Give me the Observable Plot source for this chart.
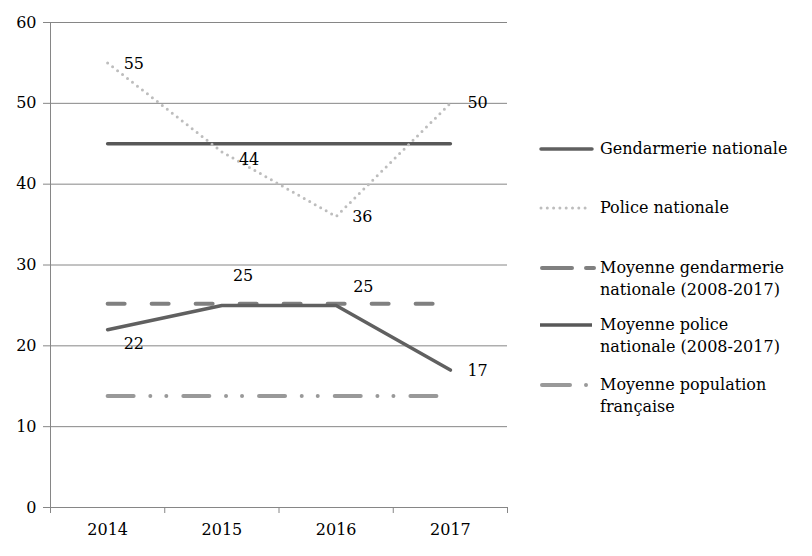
<!DOCTYPE html>
<html><head><meta charset="utf-8">
<script src="https://cdn.jsdelivr.net/npm/d3@7"></script>
<script src="https://cdn.jsdelivr.net/npm/@observablehq/plot@0.6"></script>
<style>
body{margin:0;background:#fff;}
#wrap{position:relative;width:812px;height:556px;font-family:"DejaVu Serif",serif;color:#000;}
#wrap svg.plot{position:absolute;left:0;top:0;}
.leg{position:absolute;left:540px;}
.leg svg{position:absolute;left:0;top:0;overflow:visible;}
.leg .t{position:absolute;left:60px;font-size:16px;line-height:22px;white-space:nowrap;}
</style></head><body><div id="wrap"></div>
<script>
const years = [2014, 2015, 2016, 2017];
const gendarmerie = [22, 25, 25, 17];
const police = [55, 44, 36, 50];
const moyenneGendarmerie = [25.2, 25.2, 25.2, 25.2];
const moyennePolice = [45, 45, 45, 45];
const moyennePopulation = [13.8, 13.8, 13.8, 13.8];
const yTicks = [0, 10, 20, 30, 40, 50, 60];
const legendLabels = ["Gendarmerie nationale", "Police nationale", "Moyenne gendarmerie nationale (2008-2017)", "Moyenne police nationale (2008-2017)", "Moyenne population française"];

const rows = arr => years.map((year, i) => ({year, v: arr[i], i}));
const styles = {
  gend: {stroke: "#606060", strokeWidth: 3.5, strokeLinecap: "round"},
  pol: {stroke: "#bdbdbd", strokeWidth: 3, strokeDasharray: "0 6.3", strokeLinecap: "round"},
  mg: {stroke: "#808080", strokeWidth: 4, strokeDasharray: "17 27", strokeLinecap: "round"},
  mp: {stroke: "#585858", strokeWidth: 3.5},
  pop: {stroke: "#999999", strokeWidth: 4, strokeDasharray: "26 16.7 0 16 0 17", strokeLinecap: "round"}
};
const gray = "#868686";
const lbl = (arr, idx, dx, dy, anchor) => Plot.text(rows(arr).filter(d => d.i === idx), {x: "year", y: "v", text: d => String(d.v), dx, dy, textAnchor: anchor || "start", fontSize: 16, fill: "#000"});

const chart = Plot.plot({
  width: 812, height: 556,
  marginLeft: 50, marginRight: 305, marginTop: 22, marginBottom: 49,
  style: {fontFamily: "DejaVu Serif, serif", fontSize: "15px", color: "#000", background: "transparent"},
  x: {domain: [2013.5, 2017.5]},
  y: {domain: [0, 60]},
  marks: [
    Plot.gridY(yTicks.slice(1), {stroke: gray, strokeOpacity: 1}),
    Plot.ruleY([0], {stroke: gray}),
    Plot.ruleX([2013.5], {stroke: gray}),
    Plot.axisY(yTicks, {tickSize: 7, tickPadding: 7, stroke: gray, fill: "#000", fontSize: 16, label: null, tickFormat: d => String(d)}),
    Plot.axisX([2013.5, 2014.5, 2015.5, 2016.5, 2017.5], {tickSize: 6, stroke: gray, tickFormat: () => "", label: null}),
    Plot.axisX(years, {tickSize: 0, tickPadding: 16, fill: "#000", fontSize: 16, label: null, tickFormat: d => String(d)}),
    Plot.line(rows(moyennePopulation), {x: "year", y: "v", ...styles.pop}),
    Plot.line(rows(moyenneGendarmerie), {x: "year", y: "v", ...styles.mg}),
    Plot.line(rows(moyennePolice), {x: "year", y: "v", ...styles.mp}),
    Plot.line(rows(police), {x: "year", y: "v", ...styles.pol}),
    Plot.line(rows(gendarmerie), {x: "year", y: "v", ...styles.gend}),
    lbl(police, 0, 16, 1),
    lbl(police, 1, 17, 8),
    lbl(police, 2, 16, 0),
    lbl(police, 3, 17, 0),
    lbl(gendarmerie, 0, 16, 14),
    lbl(gendarmerie, 1, 11, -30),
    lbl(gendarmerie, 2, 17, -19),
    lbl(gendarmerie, 3, 17, 1)
  ]
});
chart.classList.add("plot");
const wrap = document.getElementById("wrap");
wrap.appendChild(chart);

// legend
const legendItems = [
  {key: "gend", y: 149, lines: [legendLabels[0]]},
  {key: "pol", y: 208, lines: [legendLabels[1]]},
  {key: "mg", y: 268, lines: ["Moyenne gendarmerie", "nationale (2008-2017)"]},
  {key: "mp", y: 325, lines: ["Moyenne police", "nationale (2008-2017)"]},
  {key: "pop", y: 385, lines: ["Moyenne population", "française"]}
];
const legendSamples = {
  gend: {x1: 1, x2: 52, dash: null},
  pol: {x1: 1, x2: 50, dash: "0 6.3"},
  mg: {x1: 2, x2: 54, dash: "30 14"},
  mp: {x1: 0, x2: 52, dash: null},
  pop: {x1: 2, x2: 50, dash: "28 16 0 100"}
};
legendItems.forEach(it => {
  const s = styles[it.key], ls = legendSamples[it.key];
  const div = document.createElement("div");
  div.className = "leg";
  div.style.top = it.y + "px";
  div.innerHTML = `<svg width="60" height="1"><line x1="${ls.x1}" x2="${ls.x2}" y1="0" y2="0" stroke="${s.stroke}" stroke-width="${s.strokeWidth}" ${ls.dash ? `stroke-dasharray="${ls.dash}"` : ""} stroke-linecap="${s.strokeLinecap || "butt"}"/></svg>` +
    `<div class="t" style="top:-11px">${it.lines.join("<br>")}</div>`;
  wrap.appendChild(div);
});
</script></body></html>
